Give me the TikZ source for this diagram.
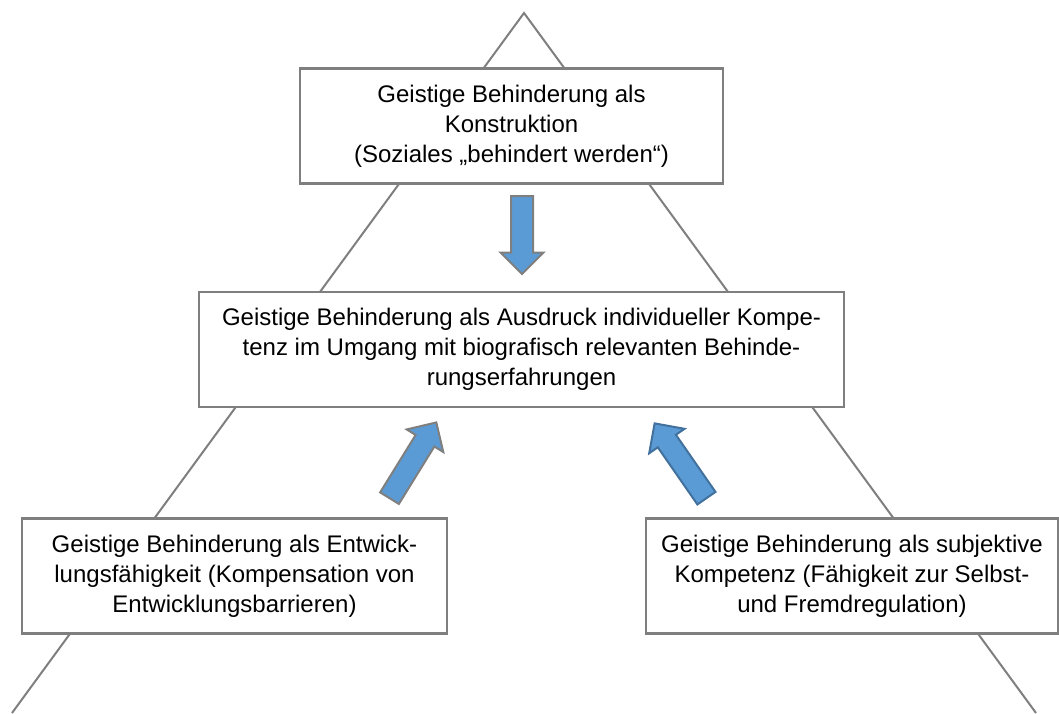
\documentclass[tikz,border=0pt]{standalone}
\usepackage{fontspec}
\setmainfont{Liberation Sans}
\usetikzlibrary{shapes.arrows}
\definecolor{linegray}{HTML}{7F7F7F}
\definecolor{arrowblue}{HTML}{5B9BD5}
\definecolor{arrowedge}{HTML}{41719C}
\begin{document}
\begin{tikzpicture}[x=1pt, y=-1pt, font=\fontsize{24}{30}\selectfont,
		stage/.style = {draw=linegray, line width=2.6pt, fill=white, align=center, inner sep=0pt, minimum height=115pt},
		bigarrow/.style = {single arrow, draw=linegray, line width=2pt, fill=arrowblue, minimum width=41pt, single arrow head extend=10.5pt, inner sep=10pt, anchor=tail}]

		\useasboundingbox (0,0) rectangle (1059,713);

		% the triangle behind the boxes
		\coordinate (apex) at (524,13);
		\coordinate (baseL) at (12,713);
		\coordinate (baseR) at (1036,713);
		\draw[linegray, line width=2pt] (baseL) -- (apex) -- (baseR);

		\node[stage, minimum width=423pt] (top) at (511.5,126) {Geistige Behinderung als\\Konstruktion\\(Soziales „behindert werden“)};
		\node[stage, minimum width=645pt] (mid) at (521.5,349.5) {Geistige Behinderung als Ausdruck individueller Kompe-\\tenz im Umgang mit biografisch relevanten Behinde-\\rungserfahrungen};
		\node[stage, minimum width=425pt] (left) at (234.5,576) {Geistige Behinderung als Entwick-\\lungsfähigkeit (Kompensation von\\Entwicklungsbarrieren)};
		\node[stage, minimum width=412pt] (right) at (852,576) {Geistige Behinderung als subjektive\\Kompetenz (Fähigkeit zur Selbst-\\und Fremdregulation)};

		% block arrows
		\node[bigarrow, minimum height=78pt, rotate=-90] (down) at (522,195) {};
		\node[bigarrow, minimum height=89pt, rotate=58.3] (upL) at (389,499) {};
		\node[bigarrow, draw=arrowedge, minimum height=91pt, rotate=124.7] (upR) at (707,499) {};
	\end{tikzpicture}
\end{document}
